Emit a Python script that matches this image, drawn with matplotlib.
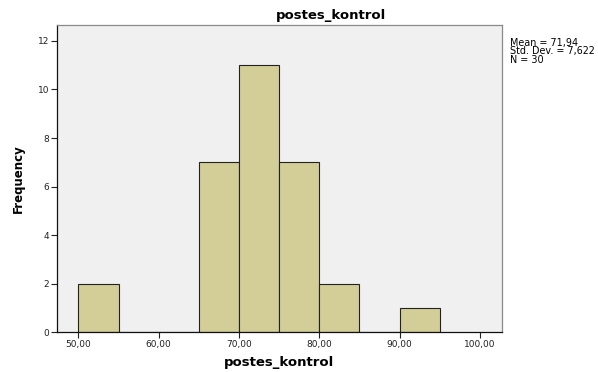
import numpy as np
import matplotlib.pyplot as plt

# histogram of postes_kontrol (SPSS style)
bin_edges = [50, 55, 60, 65, 70, 75, 80, 85, 90, 95]
counts = [2, 0, 0, 7, 11, 7, 2, 0, 1]
x_ticks = [50, 60, 70, 80, 90, 100]
x_tick_labels = ["50,00", "60,00", "70,00", "80,00", "90,00", "100,00"]
y_ticks = [0, 2, 4, 6, 8, 10, 12]
stats_lines = ["Mean = 71,94", "Std. Dev. = 7,622", "N = 30"]

fig = plt.figure(figsize=(5.98, 3.72), dpi=100)
ax = fig.add_axes([0.0948, 0.1067, 0.7441, 0.827])
ax.set_facecolor("#f0f0f0")

edges = np.array(bin_edges)
ax.bar(edges[:-1], counts, width=np.diff(edges), align="edge",
       color="#d3ce97", edgecolor="#222222", linewidth=0.8, zorder=2)

ax.set_xlim(47.3, 102.7)
ax.set_ylim(0, 12.67)

ax.set_xticks(x_ticks)
ax.set_xticklabels(x_tick_labels)
ax.set_yticks(y_ticks)
ax.tick_params(axis="both", direction="out", length=4, width=0.8,
               pad=1.5, labelsize=6.5, colors="#222222")

for s in ["left", "bottom"]:
    ax.spines[s].set_color("#111111")
    ax.spines[s].set_linewidth(0.9)
for s in ["top", "right"]:
    ax.spines[s].set_color("#8a8a8a")
    ax.spines[s].set_linewidth(0.9)

ax.set_xlabel("postes_kontrol", fontsize=9.5, fontweight="bold", labelpad=5)
ax.set_ylabel("Frequency", fontsize=8.5, fontweight="bold",
              family=["Liberation Sans Narrow", "DejaVu Sans"], labelpad=9)

fig.text(331 / 598, 1 - 16 / 372, "postes_kontrol", ha="center", va="center",
         fontsize=9.5, fontweight="bold")

fig.text(510 / 598, 1 - 38 / 372, "\n".join(stats_lines), ha="left", va="top",
         fontsize=6.9, linespacing=0.8)

fig.savefig("out.png", dpi=100)
